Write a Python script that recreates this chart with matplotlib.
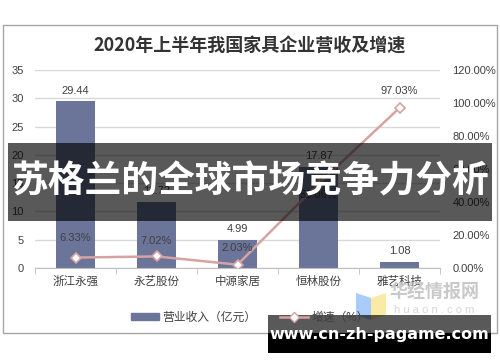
import numpy as np
import matplotlib
matplotlib.use('Agg')
import matplotlib.pyplot as plt
from matplotlib.patches import Rectangle, Polygon
from matplotlib.lines import Line2D
from matplotlib.ticker import FuncFormatter

plt.rcParams['font.family'] = ['Liberation Sans', 'Noto Sans CJK SC', 'DejaVu Sans']

companies = ['浙江永强', '永艺股份', '中源家居', '恒林股份', '雅艺科技']
revenue = [29.44, 11.72, 4.99, 17.87, 1.08]      # 亿元
growth = [6.33, 7.02, 2.03, 51.06, 97.03]        # %
growth_label_offset = [14, 11, 12, -8, 12]       # points, label above/below marker

bar_color = '#6b7499'
line_color = '#d6a2a2'
text_color = '#404040'
grid_color = '#d9d9d9'

W, H = 500, 362
fig = plt.figure(figsize=(W / 100, H / 100), dpi=100)


def fx(x):
    return x / W


def fy(y):
    return 1 - y / H


# chart frame
fig.add_artist(Rectangle((fx(3), fy(333)), fx(494), 308 / H, transform=fig.transFigure,
                         fill=False, edgecolor='#a6a6a6', lw=1))

fig.text(0.5, fy(45), '2020年上半年我国家具企业营收及增速', ha='center', va='center',
         fontsize=13, fontweight='bold', color='#333333', family=['Noto Sans CJK SC'])

ax = fig.add_axes([fx(35), fy(268), fx(405), 198 / H])
x = np.arange(len(companies))
bars = ax.bar(x, revenue, width=0.49, color=bar_color, zorder=2)
ax.set_xlim(-0.5, len(companies) - 0.5)
ax.set_ylim(0, 35)
ax.set_yticks(np.arange(0, 36, 5))
ax.yaxis.grid(True, color=grid_color, lw=1)
ax.set_axisbelow(True)
for s in ['top', 'right', 'left']:
    ax.spines[s].set_visible(False)
ax.spines['bottom'].set_color('#bfbfbf')
ax.tick_params(axis='y', length=0, pad=8, labelsize=8, labelcolor=text_color)
ax.set_xticks(x)
ax.set_xticklabels(companies, fontsize=8.3, color=text_color)
ax.tick_params(axis='x', length=0, pad=6)
ax.set_xticks(np.arange(-0.5, len(companies)), minor=True)
ax.tick_params(axis='x', which='minor', length=4, color='#bfbfbf')

for xi, v in zip(x, revenue):
    ax.annotate(f'{v:.2f}', (xi, v), xytext=(0, 4), textcoords='offset points',
                ha='center', va='bottom', fontsize=8, color=text_color)

ax2 = ax.twinx()
ax2.set_ylim(0, 120)
ax2.set_yticks(np.arange(0, 121, 20))
ax2.yaxis.set_major_formatter(FuncFormatter(lambda v, p: f'{v:.2f}%'))
for s in ['top', 'right', 'left', 'bottom']:
    ax2.spines[s].set_visible(False)
ax2.tick_params(axis='y', length=0, pad=9, labelsize=8, labelcolor=text_color)
ax2.plot(x, growth, color=line_color, lw=1.8, marker='D', markersize=5.5,
         markerfacecolor='white', markeredgecolor=line_color, markeredgewidth=1.2, zorder=3)
for xi, g, off in zip(x, growth, growth_label_offset):
    ax2.annotate(f'{g:.2f}%', (xi, g), xytext=(0, off), textcoords='offset points',
                 ha='center', va='center', fontsize=8, color=text_color)

handles = [Rectangle((0, 0), 1, 1, color=bar_color),
           Line2D([], [], color=line_color, lw=1.8, marker='D', markersize=5,
                  markerfacecolor='white', markeredgecolor=line_color)]
fig.legend(handles, ['营业收入（亿元）', '增速（%）'], loc='center', ncol=2,
           bbox_to_anchor=(0.5, fy(318)), frameon=False, fontsize=8.5,
           handlelength=2.4, handleheight=0.5, columnspacing=2.0, handletextpad=0.3,
           labelcolor=text_color)

# watermark
fig.add_artist(Polygon([(fx(356), fy(293)), (fx(371), fy(298)), (fx(371), fy(320)),
                        (fx(356), fy(315))], closed=True, transform=fig.transFigure,
                       facecolor='#a9cdf7', edgecolor='none'))
fig.add_artist(Polygon([(fx(371), fy(298)), (fx(386), fy(293)), (fx(386), fy(315)),
                        (fx(371), fy(320))], closed=True, transform=fig.transFigure,
                       facecolor='#fbe9a6', edgecolor='none'))
fig.text(fx(434), fy(292), '华经情报网', ha='center', va='center', fontsize=13,
         fontweight='bold', color='#c9c9c9', family=['Noto Sans CJK SC'])
fig.text(fx(434), fy(310), 'h u a o n . c o m', ha='center', va='center', fontsize=8,
         color='#d6d6d6')

# overlay banner
fig.add_artist(Rectangle((fx(8), fy(221)), fx(484), 78 / H, transform=fig.transFigure,
                         facecolor='black', alpha=0.65, edgecolor='none'))
fig.text(0.5, fy(182), '苏格兰的全球市场竞争力分析', ha='center', va='center',
         fontsize=26.5, fontweight='bold', color='white', family=['Noto Sans CJK SC'])

# site band
fig.add_artist(Rectangle((fx(268), fy(333)), fx(223), 18 / H, transform=fig.transFigure,
                         facecolor='black', alpha=0.65, edgecolor='none'))
fig.add_artist(Rectangle((fx(268), fy(353)), fx(223), 20 / H, transform=fig.transFigure,
                         facecolor='black', edgecolor='none'))
fig.text(fx(379), fy(335), 'www.cn-zh-pagame.com', ha='center', va='center',
         fontsize=11.5, fontweight='bold', color='white', family=['DejaVu Sans'])

fig.savefig('out.png', dpi=100)
